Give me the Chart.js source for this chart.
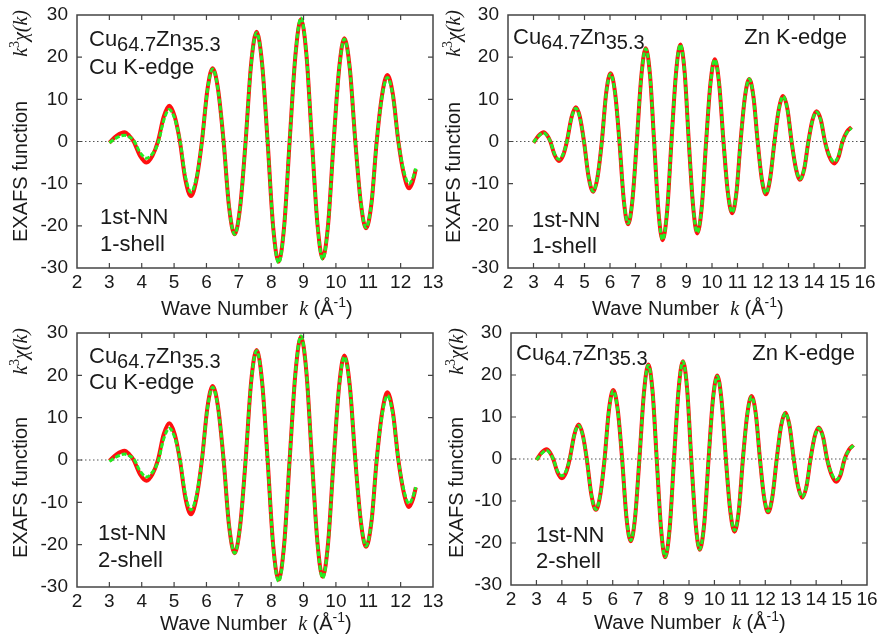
<!DOCTYPE html>
<html>
<head>
<meta charset="utf-8">
<script src="https://cdn.jsdelivr.net/npm/chart.js@4.4.0/dist/chart.umd.min.js"></script>
<style>
  body { margin: 0; background: #fff; width: 882px; height: 641px; overflow: hidden; position: relative; }
  canvas { position: absolute; }
</style>
</head>
<body>
<canvas id="c1" width="445" height="320" style="left:0;top:0"></canvas>
<canvas id="c2" width="441" height="320" style="left:441px;top:0"></canvas>
<canvas id="c3" width="445" height="321" style="left:0;top:320px"></canvas>
<canvas id="c4" width="441" height="321" style="left:441px;top:320px"></canvas>
<script>
// wave number k (1/A), Cu K-edge panels
const kCu = [3.0, 3.23, 3.47, 3.61, 3.75, 3.95, 4.15, 4.33, 4.5, 4.68, 4.85, 5.02, 5.18, 5.35, 5.52,
    5.69, 5.86, 6.03, 6.19, 6.36, 6.53, 6.7, 6.87, 7.04, 7.21, 7.38, 7.55, 7.72, 7.89, 8.06, 8.23,
    8.4, 8.57, 8.75, 8.92, 9.09, 9.26, 9.43, 9.59, 9.76, 9.93, 10.1, 10.26, 10.43, 10.6, 10.77,
    10.93, 11.1, 11.26, 11.43, 11.59, 11.76, 11.93, 12.1, 12.26, 12.37, 12.47];
const cu1Red = [-0.3, 1.4, 2.2, 1.4, 0, -3.4, -5.0, -3.4, 0, 5.9, 8.5, 5.9, 0, -9.1, -12.9,
    -9.1, 0, 12.3, 17.4, 12.3, 0, -15.6, -22.0, -15.6, 0, 18.4, 26.0, 18.4, 0, -20.2, -28.5,
    -20.2, 0, 20.5, 29.0, 20.5, 0, -19.6, -27.7, -19.6, 0, 17.3, 24.5, 17.3, 0, -14.6,
    -20.6, -14.6, 0, 11.2, 15.8, 11.2, 0, -7.8, -11.1, -9.6, -6.6];
const cu1Green = [-0.3, 0.9, 1.5, 1.1, 0.3, -2.6, -4.0, -2.9, -0.5, 5.0, 7.6, 5.4, 0.3, -8.3, -12.0,
    -8.6, 0, 12.1, 17.2, 12.2, 0, -15.5, -22.0, -15.6, 0, 18.3, 25.8, 18.3, 0, -20.3, -28.8,
    -20.4, 0, 20.7, 29.3, 20.7, 0, -19.7, -27.9, -19.7, 0, 17.2, 24.3, 17.2, 0, -14.4,
    -20.4, -14.4, 0, 10.8, 15.2, 10.8, 0, -7.1, -10.0, -8.8, -6.4];
const cu2Red = [-0.2, 1.4, 2.2, 1.4, 0, -3.4, -4.9, -3.4, 0, 6.1, 8.7, 6.1, 0, -9.0, -12.8,
    -9.0, 0, 12.4, 17.5, 12.4, 0, -15.6, -22.0, -15.6, 0, 18.4, 26.0, 18.4, 0, -20.0, -28.3,
    -20.0, 0, 20.6, 29.1, 20.6, 0, -19.5, -27.6, -19.5, 0, 17.5, 24.7, 17.5, 0, -14.5,
    -20.5, -14.5, 0, 11.3, 16.0, 11.3, 0, -7.8, -11.1, -9.5, -6.5];
const cu2Green = [-0.3, 0.8, 1.4, 1.0, 0.3, -2.6, -4.0, -2.9, -0.5, 5.0, 7.5, 5.3, 0.3, -8.2, -11.8,
    -8.4, 0, 12.1, 17.2, 12.2, 0, -15.5, -22.0, -15.6, 0, 18.3, 25.8, 18.3, 0, -20.3, -28.7,
    -20.4, 0, 20.7, 29.3, 20.7, 0, -19.7, -27.9, -19.7, 0, 17.2, 24.4, 17.2, 0, -14.3,
    -20.3, -14.3, 0, 10.8, 15.2, 10.8, 0, -7.2, -10.3, -8.9, -6.4];

// Zn K-edge panels
const kZn = [3.0, 3.2, 3.4, 3.53, 3.66, 3.83, 4.0, 4.16, 4.31, 4.49, 4.66, 4.82, 4.98, 5.16, 5.34,
    5.51, 5.68, 5.85, 6.02, 6.2, 6.37, 6.54, 6.71, 6.88, 7.05, 7.23, 7.4, 7.57, 7.73, 7.9, 8.06,
    8.24, 8.41, 8.59, 8.76, 8.93, 9.09, 9.26, 9.42, 9.6, 9.77, 9.94, 10.11, 10.28, 10.45, 10.62,
    10.79, 10.96, 11.12, 11.29, 11.46, 11.63, 11.79, 11.95, 12.11, 12.28, 12.45, 12.62, 12.79,
    12.96, 13.12, 13.29, 13.45, 13.62, 13.78, 13.94, 14.1, 14.27, 14.43, 14.61, 14.79, 14.96,
    15.12, 15.3, 15.47];
const zn1Red = [-0.3, 1.4, 2.2, 1.5, 0, -3.2, -4.6, -3.3, 0, 5.7, 8.1, 5.8, 0, -8.4, -11.9, -8.5, 0,
    11.5, 16.2, 11.5, 0, -13.9, -19.6, -13.9, 0, 15.6, 22.1, 15.7, 0, -16.5, -23.4, -16.5, 0,
    16.3, 23.0, 16.2, 0, -15.4, -21.8, -15.4, 0, 13.8, 19.5, 13.7, 0, -12.0, -17.0, -12.0, 0,
    10.5, 14.8, 10.4, 0, -8.8, -12.5, -8.8, 0, 7.6, 10.8, 7.6, 0, -6.4, -9.1, -6.4, 0,
    5.1, 7.2, 5.1, 0, -3.7, -5.2, -3.7, 0, 2.4, 3.4];
const zn1Green = [-0.2, 1.3, 2.0, 1.4, 0, -3.0, -4.2, -3.0, 0, 5.6, 7.9, 5.6, 0, -8.3, -11.8, -8.4, 0,
    11.3, 16.0, 11.3, 0, -13.7, -19.4, -13.8, 0, 15.6, 22.0, 15.6, 0, -16.5, -23.3, -16.5, 0,
    16.3, 23.0, 16.2, 0, -15.3, -21.6, -15.3, 0, 13.7, 19.4, 13.7, 0, -11.9, -16.8, -11.9, 0,
    10.5, 14.8, 10.4, 0, -8.7, -12.3, -8.7, 0, 7.6, 10.7, 7.5, 0, -6.3, -8.9, -6.3, 0,
    5.0, 7.0, 4.9, 0, -3.4, -4.8, -3.4, 0, 2.2, 3.2];
const zn2Red = [-0.2, 1.5, 2.3, 1.6, 0, -3.2, -4.6, -3.3, 0, 5.8, 8.2, 5.8, 0, -8.5, -12.1, -8.6, 0,
    11.6, 16.4, 11.6, 0, -13.9, -19.6, -13.9, 0, 15.9, 22.5, 15.9, 0, -16.5, -23.4, -16.5, 0,
    16.5, 23.3, 16.4, 0, -15.3, -21.6, -15.3, 0, 14.1, 19.9, 14.0, 0, -12.2, -17.3, -12.2, 0,
    10.6, 15.0, 10.6, 0, -9.0, -12.7, -9.0, 0, 7.8, 11.0, 7.7, 0, -6.5, -9.2, -6.5, 0,
    5.3, 7.5, 5.3, 0, -3.8, -5.4, -3.8, 0, 2.3, 3.3];
const zn2Green = [-0.2, 1.3, 2.0, 1.4, 0, -2.9, -4.0, -2.9, 0, 5.7, 8.0, 5.7, 0, -8.5, -12.0, -8.5, 0,
    11.5, 16.2, 11.5, 0, -13.7, -19.4, -13.7, 0, 15.8, 22.3, 15.8, 0, -16.5, -23.3, -16.5, 0,
    16.4, 23.2, 16.4, 0, -15.2, -21.5, -15.2, 0, 13.9, 19.7, 13.9, 0, -12.0, -17.0, -12.0, 0,
    10.5, 14.8, 10.5, 0, -8.8, -12.5, -8.8, 0, 7.7, 10.9, 7.7, 0, -6.4, -9.0, -6.4, 0,
    5.2, 7.3, 5.2, 0, -3.5, -4.9, -3.5, 0, 2.2, 3.2];

const yTicks = [-30, -20, -10, 0, 10, 20, 30];

const SANS = "'Liberation Sans', Arial, sans-serif";
const SERIF = "'Liberation Serif', 'Times New Roman', serif";
const INK = '#1a1a1a';

const panels = [
    {id: 'c1', area: {l: 77, t: 15, r: 433, b: 268}, xMax: 13, k: kCu, red: cu1Red, green: cu1Green,
     yTitle: [27, 242, 10], xTitle: [161, 315], alloy: [89, 46], edge: [89, 74, 'left', 'Cu K-edge'],
     nn: [100, 224, 251, '1-shell']},
    {id: 'c2', area: {l: 67, t: 15, r: 424, b: 268}, xMax: 16, k: kZn, red: zn1Red, green: zn1Green,
     yTitle: [19, 243, 10], xTitle: [151, 315], alloy: [72, 44], edge: [406, 44, 'right', 'Zn K-edge'],
     nn: [91, 227, 253, '1-shell']},
    {id: 'c3', area: {l: 77, t: 13, r: 433, b: 267}, xMax: 13, k: kCu, red: cu2Red, green: cu2Green,
     yTitle: [27, 238, 8], xTitle: [160, 310], alloy: [89, 43], edge: [89, 69, 'left', 'Cu K-edge'],
     nn: [98, 220, 247, '2-shell']},
    {id: 'c4', area: {l: 70, t: 13, r: 426, b: 265}, xMax: 16, k: kZn, red: zn2Red, green: zn2Green,
     yTitle: [22, 238, 8], xTitle: [153, 309], alloy: [75, 40], edge: [414, 40, 'right', 'Zn K-edge'],
     nn: [95, 222, 248, '2-shell']}
];

const drawRich = (ctx, x, y, parts, align) => {
    let total = 0;
    for (const p of parts) { ctx.font = p[1]; total += ctx.measureText(p[0]).width; }
    let cx = align === 'right' ? x - total : x;
    for (const p of parts) {
        ctx.font = p[1];
        ctx.fillText(p[0], cx, y + (p[2] || 0));
        cx += ctx.measureText(p[0]).width;
    }
}

const decorPlugin = {
    id: 'decor',
    beforeDatasetsDraw(chart) {
        const {ctx, chartArea: a, scales} = chart;
        const y0 = scales.y.getPixelForValue(0);
        ctx.save();
        ctx.strokeStyle = '#555';
        ctx.lineWidth = 1;
        ctx.setLineDash([1.5, 2.5]);
        ctx.beginPath(); ctx.moveTo(a.left, y0); ctx.lineTo(a.right, y0); ctx.stroke();
        ctx.restore();
    },
    afterDraw(chart) {
        const {ctx, chartArea: a, scales} = chart;
        const p = chart.options.plugins.decor;
        ctx.save();
        ctx.strokeStyle = '#444';
        ctx.lineWidth = 1.5;
        ctx.strokeRect(a.left, a.top, a.right - a.left, a.bottom - a.top);
        ctx.lineWidth = 1.2;
        ctx.beginPath();
        for (let v = 3; v < p.xMax; v++) {
            const x = scales.x.getPixelForValue(v);
            ctx.moveTo(x, a.bottom); ctx.lineTo(x, a.bottom - 5);
            ctx.moveTo(x, a.top); ctx.lineTo(x, a.top + 5);
        }
        for (const v of yTicks.slice(1, -1)) {
            const y = scales.y.getPixelForValue(v);
            ctx.moveTo(a.left, y); ctx.lineTo(a.left + 5, y);
            ctx.moveTo(a.right, y); ctx.lineTo(a.right - 5, y);
        }
        ctx.stroke();

        ctx.fillStyle = INK;
        ctx.textBaseline = 'alphabetic';
        // axis titles
        drawRich(ctx, p.xTitle[0], p.xTitle[1], [
            ['Wave Number  ', '20px ' + SANS], ['k', 'italic 20px ' + SERIF], [' (Å', '20px ' + SANS],
            ['-1', '14px ' + SANS, -8], [')', '20px ' + SANS]
        ], 'left');
        ctx.save();
        ctx.translate(p.yTitle[0], p.yTitle[1]);
        ctx.rotate(-Math.PI / 2);
        drawRich(ctx, 0, 0, [['EXAFS function', '20px ' + SANS]], 'left');
        ctx.restore();
        ctx.save();
        ctx.translate(p.yTitle[0], p.yTitle[2]);
        ctx.rotate(-Math.PI / 2);
        drawRich(ctx, 0, 0, [
            ['k', 'italic 20px ' + SERIF], ['3', '14px ' + SERIF, -8],
            ['χ(', 'italic 20px ' + SERIF], ['k', 'italic 20px ' + SERIF], [')', 'italic 20px ' + SERIF]
        ], 'right');
        ctx.restore();

        // annotations
        drawRich(ctx, p.alloy[0], p.alloy[1], [
            ['Cu', '22px ' + SANS], ['64.7', '20px ' + SANS, 5], ['Zn', '22px ' + SANS], ['35.3', '20px ' + SANS, 5]
        ], 'left');
        drawRich(ctx, p.edge[0], p.edge[1], [[p.edge[3], '22px ' + SANS]], p.edge[2]);
        drawRich(ctx, p.nn[0], p.nn[1], [['1st-NN', '22px ' + SANS]], 'left');
        drawRich(ctx, p.nn[0], p.nn[2], [[p.nn[3], '22px ' + SANS]], 'left');
        ctx.restore();
    }
};

const makeChart = (panel) => {
    const canvas = document.getElementById(panel.id);
    const a = panel.area;
    const red = panel.k.map((k, i) => ({x: k, y: panel.red[i]}));
    const green = panel.k.map((k, i) => ({x: k, y: panel.green[i]}));

    const config = {
        type: 'line',
        data: {
            datasets: [{
                label: 'experiment',
                data: red,
                borderColor: '#ff1010',
                borderWidth: 4,
                pointRadius: 0,
                cubicInterpolationMode: 'monotone',
                order: 2
            }, {
                label: 'fit',
                data: green,
                borderColor: '#22ee22',
                borderWidth: 3,
                borderDash: [5, 2],
                pointRadius: 0,
                cubicInterpolationMode: 'monotone',
                order: 1
            }]
        },
        options: {
            responsive: false,
            animation: false,
            layout: {padding: {left: 0, top: a.t, right: canvas.width - a.r, bottom: 0}},
            plugins: {
                legend: {display: false},
                tooltip: {enabled: false},
                decor: {xMax: panel.xMax, xTitle: panel.xTitle, yTitle: panel.yTitle,
                        alloy: panel.alloy, edge: panel.edge, nn: panel.nn}
            },
            scales: {
                x: {
                    type: 'linear',
                    min: 2,
                    max: panel.xMax,
                    grid: {display: false, drawTicks: false},
                    border: {display: false},
                    ticks: {stepSize: 1, padding: 3, autoSkip: false, maxRotation: 0, minRotation: 0,
                            color: INK, font: {family: SANS, size: 19}},
                    afterFit: (s) => { s.height = canvas.height - a.b; s.paddingLeft = 0; s.paddingRight = 0; }
                },
                y: {
                    min: -30,
                    max: 30,
                    grid: {display: false, drawTicks: false},
                    border: {display: false},
                    ticks: {stepSize: 10, padding: 9, color: INK, font: {family: SANS, size: 19}},
                    afterFit: (s) => { s.width = a.l; s.paddingTop = 0; s.paddingBottom = 0; }
                }
            }
        },
        plugins: [decorPlugin]
    };

    new Chart(canvas, config);
}

for (const panel of panels) {
    makeChart(panel);
}
</script>
</body>
</html>
